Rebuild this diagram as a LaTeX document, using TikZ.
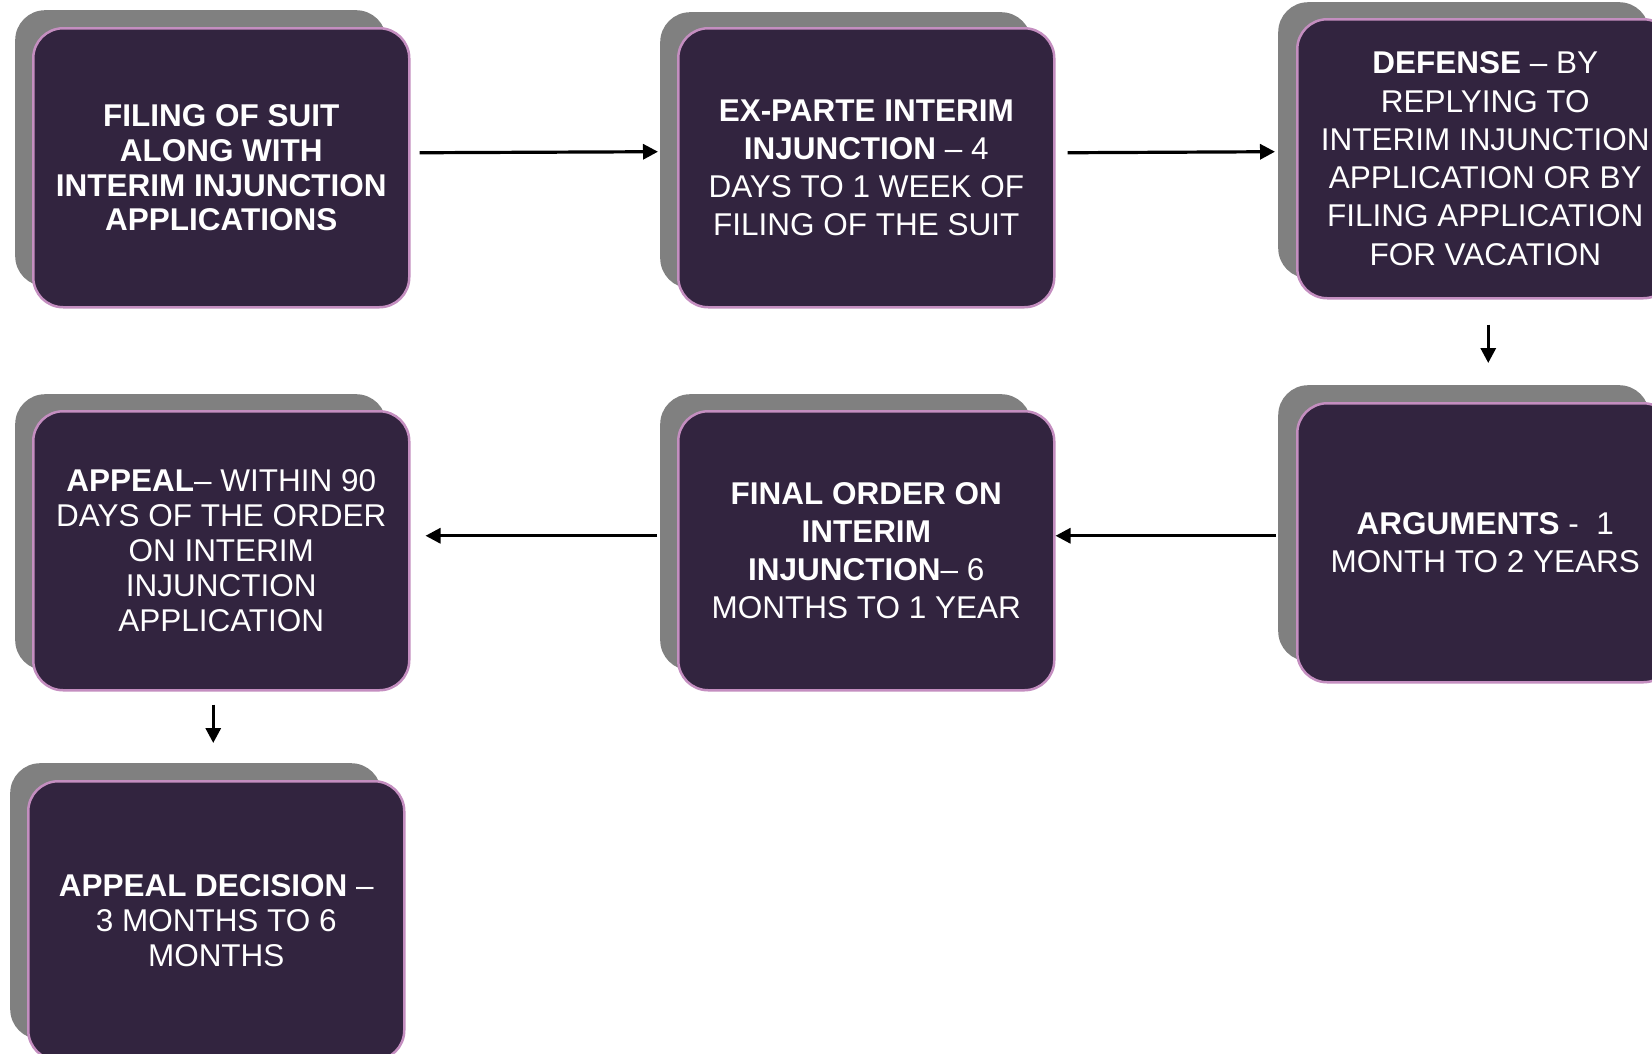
\documentclass[tikz,border=0pt]{standalone}
\usepackage{fontspec}
\setmainfont{Liberation Sans}
\usetikzlibrary{arrows.meta}
\definecolor{cardfill}{HTML}{32243F}
\definecolor{cardedge}{HTML}{C48EC0}
\definecolor{cardshade}{HTML}{808080}
\begin{document}
\begin{tikzpicture}[x=1bp,y=-1bp,
  shade/.style={fill=cardshade, rounded corners=30bp, minimum width=371bp,
    minimum height=276bp, anchor=north west, inner sep=0pt},
  card/.style={fill=cardfill, draw=cardedge, line width=2.5bp, rounded corners=30bp,
    minimum width=376bp, minimum height=279bp, anchor=north west, inner sep=0pt,
    text=white, align=center, font=\fontsize{31.6}{38.4}\selectfont},
  tight/.style={font=\fontsize{31.6}{35}\selectfont},
  flow/.style={line width=3.2bp, -{Triangle[length=15bp,width=15bp]}}]

\fill[white] (0,0) rectangle (1652,1053);
\useasboundingbox (0,0) rectangle (1652,1053);

% back plates
\node[shade] (s1) at (15,10) {};
\node[shade] (s2) at (660,12) {};
\node[shade] (s3) at (1278,2) {};
\node[shade] (s4) at (15,394) {};
\node[shade] (s5) at (660,394) {};
\node[shade] (s6) at (1278,385) {};
\node[shade] (s7) at (10,763) {};

% stage cards
\node[card,tight] (b1) at (32,27)
  {\textbf{FILING OF SUIT}\\\textbf{ALONG WITH}\\\textbf{INTERIM INJUNCTION}\\\textbf{APPLICATIONS}};
\node[card] (b2) at (677,27)
  {\textbf{EX-PARTE INTERIM}\\\textbf{INJUNCTION} – 4\\DAYS TO 1 WEEK OF\\FILING OF THE SUIT};
\node[card] (b3) at (1296,18)
  {\textbf{DEFENSE} – BY\\REPLYING TO\\INTERIM INJUNCTION\\APPLICATION OR BY\\FILING APPLICATION\\FOR VACATION};
\node[card,tight] (b4) at (32,410)
  {\textbf{APPEAL}– WITHIN 90\\DAYS OF THE ORDER\\ON INTERIM\\INJUNCTION\\APPLICATION};
\node[card] (b5) at (677,410)
  {\textbf{FINAL ORDER ON}\\\textbf{INTERIM}\\\textbf{INJUNCTION}– 6\\MONTHS TO 1 YEAR};
\node[card] (b6) at (1296,402)
  {\textbf{ARGUMENTS} - \ 1\\MONTH TO 2 YEARS};
\node[card,tight] (b7) at (27,780)
  {\textbf{APPEAL DECISION} –\\3 MONTHS TO 6\\MONTHS};

% flow between stages
\draw[flow] ([shift={(9,-15)}]b1.east) -- ([shift={(-2,1.5)}]s2.west);
\draw[flow] ([shift={(12,-15)}]b2.east) -- ([shift={(-3,11.5)}]s3.west);
\draw[flow] ([shift={(3,25)}]b3.south) -- ([shift={(3,-39)}]b6.north);
\draw[flow] ([shift={(-20,-7)}]b6.west) -- ([shift={(0,-15)}]b5.east);
\draw[flow] ([shift={(-20,-15)}]b5.west) -- ([shift={(15,-15)}]b4.east);
\draw[flow] ([shift={(-8,13)}]b4.south) -- ([shift={(-3,-37)}]b7.north);
\end{tikzpicture}
\end{document}
